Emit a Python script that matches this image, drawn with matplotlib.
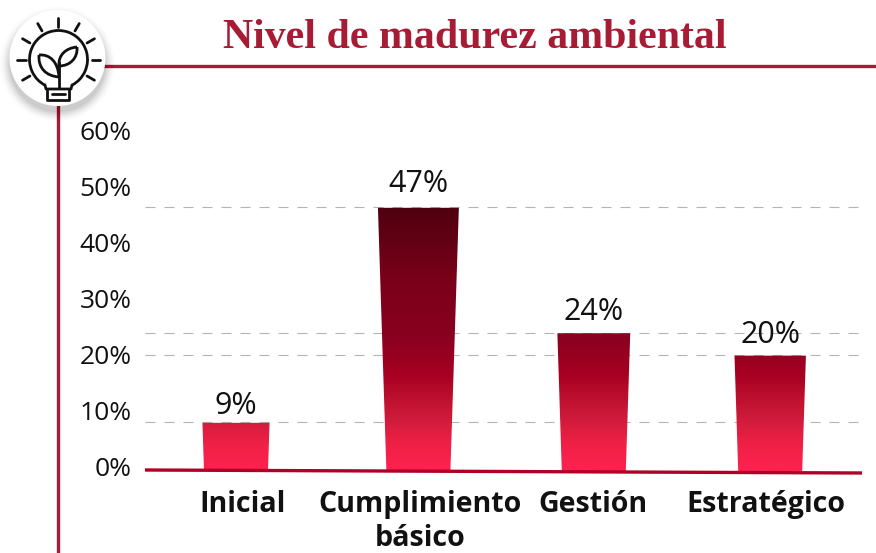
import numpy as np
import matplotlib
matplotlib.use("Agg")
import matplotlib.pyplot as plt
from matplotlib.colors import LinearSegmentedColormap
from matplotlib.patches import Circle, Polygon, Arc, PathPatch
from matplotlib.path import Path
from matplotlib.transforms import ScaledTranslation

# ---- data ----
categories = ["Inicial", "Cumplimiento\nbásico", "Gestión", "Estratégico"]
labels = [9, 47, 24, 20]                 # printed values
heights = [8.6, 47, 24.6, 20.6]          # bar tops as read against the axis
y_ticks = [0, 10, 20, 30, 40, 50, 60]
title = "Nivel de madurez ambiental"

# ---- style / layout ----
W, H = 876, 553
RED = "#a71c34"
AX_L, AX_R, AX_B, AX_T = 145, 862, 471, 135
FIRST_C, STEP = 239.0, 177.4
bar_nudge_px = [-3, 2, 0, -1]
label_nudge_px = [4, 4, -1, -5]
value_gap_px = [17, 23.5, 21.5, 21]
BOTTOM_HALF_PX, FLARE_PX = 32.0, 0.18
grad_pos = [0, 5, 9, 14, 17, 20, 24, 35, 47, 60]
grad_col = ["#ff2250", "#ee2045", "#d01c3c", "#b80c2c", "#a80022", "#9a0020",
            "#8a0020", "#780018", "#4f0010", "#4f0010"]

plt.rcParams["font.family"] = ["Open Sans", "DejaVu Sans"]
fig = plt.figure(figsize=(W / 100, H / 100), dpi=100, facecolor="white")

# overlay in pixel coordinates for the decoration
deco = fig.add_axes([0, 0, 1, 1], zorder=0)
deco.set_xlim(0, W)
deco.set_ylim(H, 0)
deco.axis("off")

ax = fig.add_axes([AX_L / W, (H - AX_B) / H, (AX_R - AX_L) / W, (AX_B - AX_T) / H], zorder=1)
ax.patch.set_alpha(0)
x0 = (AX_L - FIRST_C) / STEP
x1 = (AX_R - FIRST_C) / STEP
ax.set_xlim(x0, x1)
ax.set_ylim(0, 60)
for s in ax.spines.values():
    s.set_visible(False)

# dashed guides at each bar top
ax.hlines(np.array(heights) + 0.1, x0, x1, color="#b4b4b4", lw=0.8,
          linestyles=[(0, (9, 8.1))], zorder=1)

# gradient bars
cmap = LinearSegmentedColormap.from_list("g", [(p / 60, c) for p, c in zip(grad_pos, grad_col)])
grad = np.linspace(0, 1, 512).reshape(-1, 1)
centers = np.arange(len(heights))
for c, nudge, v, lab, gap in zip(centers, bar_nudge_px, heights, labels, value_gap_px):
    xc = c + nudge / STEP
    hb = BOTTOM_HALF_PX / STEP
    ht = (BOTTOM_HALF_PX + FLARE_PX * v) / STEP
    poly = Polygon([(xc - hb, 0), (xc + hb, 0), (xc + ht, v), (xc - ht, v)], closed=True,
                   transform=ax.transData, facecolor="none", edgecolor="none")
    ax.add_patch(poly)
    im = ax.imshow(grad, extent=(x0, x1, 0, 60), origin="lower", cmap=cmap, vmin=0, vmax=1,
                   aspect="auto", zorder=2, interpolation="bilinear")
    im.set_clip_path(poly)
    ax.annotate(f"{lab}%", (xc, v), xytext=(0, gap * 0.72), textcoords="offset points",
                ha="center", va="center", fontsize=22, color="#111111", zorder=4)
ax.set_xlim(x0, x1)
ax.set_ylim(0, 60)

# ticks
ax.set_yticks(y_ticks)
ax.set_yticklabels([f"{t}%" for t in y_ticks], fontsize=19, color="#111111")
ax.tick_params(axis="y", length=0, pad=9.5)
up = ScaledTranslation(0, 5 / 100, fig.dpi_scale_trans)
for lab in ax.get_yticklabels():
    lab.set_transform(lab.get_transform() + up)

ax.set_xticks(centers + np.array(label_nudge_px) / STEP)
ax.set_xticklabels(categories, fontsize=20.6, fontweight="bold", color="#111111", linespacing=1.2)
ax.tick_params(axis="x", length=0, pad=13.8)

# slightly tilted baseline above bars
ax.plot([AX_L, AX_R], [470, 473], transform=deco.transData, color="#b00028", lw=2.4,
        clip_on=False, zorder=5, solid_capstyle="butt")

# header rule and side rule
deco.plot([100, W], [66, 66], color=RED, lw=2.4, solid_capstyle="butt", zorder=1)
deco.plot([58, 58], [100, H], color=RED, lw=2.4, solid_capstyle="butt", zorder=1)

# title
deco.text(475, 48, title, ha="center", va="baseline", fontsize=30.2, fontweight="bold",
          family="Liberation Serif", color=RED)

# icon badge with a soft shadow
cx, cy = 57.5, 58
for r, a in zip(np.linspace(58, 48, 12), np.linspace(0.005, 0.03, 12)):
    deco.add_patch(Circle((cx, cy + 6), r, fc="black", ec="none", alpha=a, zorder=2))
deco.add_patch(Circle((cx, cy), 48, fc="white", ec="none", zorder=3))
INK = "#111111"
LW = 2.0
K = dict(color=INK, lw=LW, solid_capstyle="round", solid_joinstyle="round", zorder=4)
bc = (58.5, 59.5)
deco.add_patch(Arc(bc, 58, 58, theta1=118, theta2=62, ec=INK, lw=LW, zorder=4))
for ang in [150, 180, 210, 240, 270, 300, 330, 0, 30]:
    t = np.deg2rad(ang)
    deco.plot([bc[0] + 33 * np.cos(t), bc[0] + 41.5 * np.cos(t)],
              [bc[1] + 33 * np.sin(t), bc[1] + 41.5 * np.sin(t)], **K)
# neck and base
deco.plot([45, 46, 71, 72], [85, 89, 89, 85], **K)
deco.plot([47, 47, 69, 69], [89, 100, 100, 89], **K)
deco.plot([52, 65], [94, 94], **K)
# stem and leaves
deco.plot([59, 59], [88, 62], **K)
leaf_l = Path([(39, 55), (50, 54), (58, 62), (59, 77), (46, 76), (38, 68), (39, 55)],
              [Path.MOVETO, Path.CURVE4, Path.CURVE4, Path.CURVE4, Path.CURVE4, Path.CURVE4, Path.CURVE4])
leaf_r = Path([(77, 47), (66, 48), (58, 55), (59, 66), (70, 66), (78, 58), (77, 47)],
              [Path.MOVETO, Path.CURVE4, Path.CURVE4, Path.CURVE4, Path.CURVE4, Path.CURVE4, Path.CURVE4])
for p in (leaf_l, leaf_r):
    deco.add_patch(PathPatch(p, fc="none", ec=INK, lw=LW, zorder=4, joinstyle="round"))

fig.savefig("out.png", dpi=100, facecolor="white")
